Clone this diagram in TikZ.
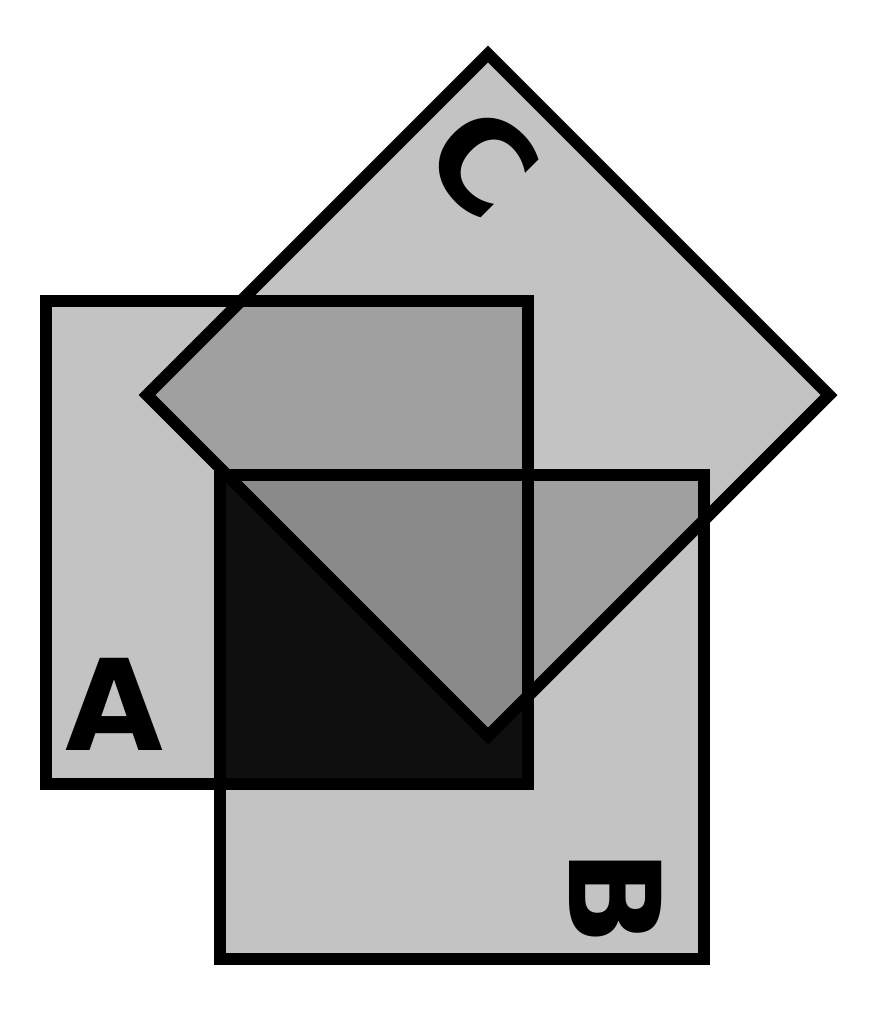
\documentclass[tikz,border=0pt]{standalone}
\usepackage{fontspec}
\setmainfont{DejaVu Sans}
\usetikzlibrary{positioning}
\definecolor{grayone}{HTML}{C3C3C3}
\definecolor{graytwo}{HTML}{A0A0A0}
\definecolor{graythree}{HTML}{8A8A8A}
\definecolor{graydeep}{HTML}{0F0F0F}

\begin{document}
\begin{tikzpicture}[x=0.2mm, y=-0.2mm,
  edge/.style={draw=black, line width=2.4mm, line join=miter},
  letter/.style={font=\fontsize{72}{72}\selectfont\bfseries, inner sep=0pt}]
  \useasboundingbox (0,0) rectangle (878,1011);

  % corners of the two squares and the diamond
  \coordinate (a1) at (46,301);  \coordinate (a2) at (528,784);
  \coordinate (b1) at (220,475); \coordinate (b2) at (704,959);
  \coordinate (cT) at (488,54);  \coordinate (cR) at (829,395);
  \coordinate (cB) at (488,736); \coordinate (cL) at (147,395);

  % plain areas
  \fill[grayone] (a1) rectangle (a2);
  \fill[grayone] (b1) rectangle (b2);
  \fill[grayone] (cT) -- (cR) -- (cB) -- (cL) -- cycle;

  % overlaps
  \begin{scope}
    \clip (a1) rectangle (a2);
    \fill[graytwo] (cT) -- (cR) -- (cB) -- (cL) -- cycle;
    \fill[graydeep] (b1) rectangle (b2);
  \end{scope}
  \begin{scope}
    \clip (b1) rectangle (b2);
    \fill[graytwo] (cT) -- (cR) -- (cB) -- (cL) -- cycle;
  \end{scope}
  \begin{scope}
    \clip (a1) rectangle (a2);
    \clip (b1) rectangle (b2);
    \fill[graythree] (cT) -- (cR) -- (cB) -- (cL) -- cycle;
  \end{scope}

  % outlines
  \draw[edge] (a1) rectangle (a2);
  \draw[edge] (b1) rectangle (b2);
  \draw[edge] (cT) -- (cR) -- (cB) -- (cL) -- cycle;

  \node[letter] (labA) at (114,704) {A};
  \node[letter, rotate=-90] (labB) at (616,898) {B};
  \node[letter, rotate=-45] (labC) at (483,162) {C};
\end{tikzpicture}
\end{document}
